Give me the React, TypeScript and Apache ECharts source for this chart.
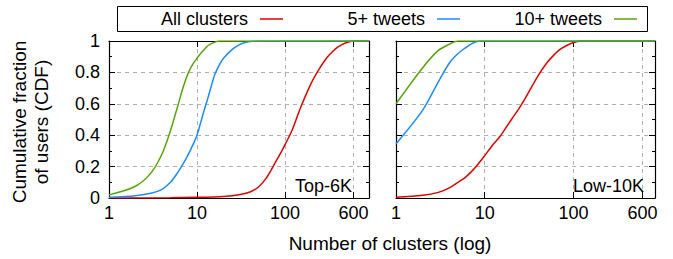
import React, { useEffect, useRef } from "react";
import * as echarts from "echarts";

// Top-6K panel
const topAllX = [1, 5, 10, 20, 30, 40, 50, 60, 70, 80, 90, 100, 120, 150, 200, 250, 300, 350, 400, 500, 600, 900];
const topAllY = [0, 0.001, 0.004, 0.01, 0.02, 0.038, 0.07, 0.12, 0.18, 0.24, 0.29, 0.34, 0.43, 0.575, 0.735, 0.83, 0.895, 0.935, 0.962, 0.99, 1.0, 1.0];
const top5X = [1, 2, 3, 4, 5, 6, 7, 8, 9, 10, 11, 12, 13, 14, 15, 16, 18, 20, 25, 30, 35, 40, 50, 900];
const top5Y = [0.005, 0.015, 0.03, 0.055, 0.1, 0.16, 0.22, 0.28, 0.34, 0.4, 0.48, 0.555, 0.62, 0.68, 0.74, 0.79, 0.85, 0.89, 0.945, 0.975, 0.99, 0.997, 1.0, 1.0];
const top10X = [1, 2, 3, 4, 5, 6, 7, 8, 9, 10, 11, 12, 13, 14, 16, 18, 900];
const top10Y = [0.02, 0.075, 0.16, 0.28, 0.43, 0.58, 0.71, 0.8, 0.855, 0.89, 0.92, 0.945, 0.965, 0.978, 0.993, 1.0, 1.0];

// Low-10K panel
const lowAllX = [1, 2, 3, 4, 5, 6, 7, 8, 10, 12, 15, 20, 25, 30, 40, 50, 60, 70, 80, 100, 120, 830];
const lowAllY = [0.005, 0.017, 0.036, 0.065, 0.1, 0.13, 0.165, 0.2, 0.27, 0.33, 0.395, 0.5, 0.58, 0.655, 0.78, 0.86, 0.91, 0.945, 0.965, 0.99, 1.0, 1.0];
const low5X = [1, 2, 3, 4, 5, 6, 7, 8, 9, 830];
const low5Y = [0.345, 0.56, 0.74, 0.86, 0.92, 0.955, 0.98, 0.995, 1.0, 1.0];
const low10X = [1, 2, 3, 4, 5, 830];
const low10Y = [0.6, 0.83, 0.94, 0.98, 1.0, 1.0];

const seriesNames = ["All clusters", "5+ tweets", "10+ tweets"];
const panelLabels = ["Top-6K", "Low-10K"];
const xTicks = [1, 10, 100, 600];
const xMax = [900, 830];

const colors = ["#e00000", "#1a8cff", "#58a50a"];
const FONT = "'Liberation Sans', Arial, sans-serif";

const zip = (xs: number[], ys: number[]) => xs.map((x, i) => [x, ys[i]]);

export default function App() {
  const ref = useRef<HTMLDivElement>(null);
  useEffect(() => {
    if (!ref.current) return;
    const chart = echarts.init(ref.current, null, { renderer: "svg" });
    const grids = [
      { left: 109, top: 41, width: 260, height: 157 },
      { left: 396, top: 41, width: 259, height: 157 },
    ];
    const splitLine = { show: true, lineStyle: { color: "#b0b0b0", type: [4, 4] as any, width: 1 } };
    const axisLine = { show: true, onZero: false, lineStyle: { color: "#000", width: 1.2 } };
    const xAxis: any[] = [];
    const yAxis: any[] = [];
    [0, 1].forEach((g) => {
      xAxis.push({
        type: "log", logBase: 10, gridIndex: g, min: 1, max: xMax[g], position: "bottom",
        axisLine,
        axisTick: { show: true, inside: true, length: 6, customValues: xTicks, lineStyle: { color: "#000" } },
        axisLabel: { show: true, customValues: xTicks, color: "#000", fontSize: 18, fontFamily: FONT, margin: 6, formatter: (v: number) => String(Math.round(v)) },
        splitLine: { ...splitLine },
        minorTick: { show: false }, minorSplitLine: { show: false },
      });
      xAxis.push({
        type: "log", logBase: 10, gridIndex: g, min: 1, max: xMax[g], position: "top",
        axisLine,
        axisTick: { show: true, inside: true, length: 6, customValues: xTicks, lineStyle: { color: "#000" } },
        axisLabel: { show: false },
        splitLine: { show: false },
      });
      yAxis.push({
        type: "value", gridIndex: g, min: 0, max: 1, interval: 0.2, position: "left",
        axisLine,
        axisTick: { show: true, inside: true, length: 6, lineStyle: { color: "#000" } },
        minorTick: { show: true, splitNumber: 2, length: 3, lineStyle: { color: "#000" } },
        axisLabel: { show: g === 0, color: "#000", fontSize: 18, fontFamily: FONT, margin: 9, formatter: (v: number) => String(Math.round(v * 10) / 10) },
        splitLine: { ...splitLine },
      });
      yAxis.push({
        type: "value", gridIndex: g, min: 0, max: 1, interval: 0.2, position: "right",
        axisLine,
        axisTick: { show: true, inside: true, length: 6, lineStyle: { color: "#000" } },
        minorTick: { show: true, splitNumber: 2, length: 3, lineStyle: { color: "#000" } },
        axisLabel: { show: false },
        splitLine: { show: false },
      });
    });
    const panels = [
      [zip(topAllX, topAllY), zip(top5X, top5Y), zip(top10X, top10Y)],
      [zip(lowAllX, lowAllY), zip(low5X, low5Y), zip(low10X, low10Y)],
    ];
    const series: any[] = [];
    panels.forEach((p, g) => {
      p.forEach((data, i) => {
        series.push({
          type: "line", name: seriesNames[i], xAxisIndex: g * 2, yAxisIndex: g * 2,
          data, showSymbol: false, symbol: "none", smooth: 0.3, clip: true,
          lineStyle: { color: colors[i], width: 1.5 }, z: 3,
        });
      });
    });
    const legendText = [248, 425, 602];
    const graphic: any[] = [
      { type: "rect", shape: { x: 117.5, y: 6.5, width: 530, height: 25 }, style: { fill: "#fff", stroke: "#000", lineWidth: 1 } },
    ];
    seriesNames.forEach((n, i) => {
      graphic.push({ type: "text", x: legendText[i], y: 19, style: { text: n, fill: "#000", font: `18px ${FONT}`, align: "right", verticalAlign: "middle" } });
      graphic.push({ type: "line", shape: { x1: legendText[i] + 12, y1: 19, x2: legendText[i] + 35, y2: 19 }, style: { stroke: colors[i], lineWidth: 1.5 } });
    });
    graphic.push({ type: "text", x: 352, y: 186, z: 10, style: { text: panelLabels[0], fill: "#000", font: `18px ${FONT}`, align: "right", verticalAlign: "middle" } });
    graphic.push({ type: "text", x: 644, y: 186, z: 10, style: { text: panelLabels[1], fill: "#000", font: `18px ${FONT}`, align: "right", verticalAlign: "middle" } });
    graphic.push({ type: "text", x: 30, y: 122, rotation: Math.PI / 2, style: { text: "Cumulative fraction\nof users (CDF)", fill: "#000", font: `19px ${FONT}`, align: "center", verticalAlign: "middle", lineHeight: 22 } });
    graphic.push({ type: "text", x: 390, y: 243, style: { text: "Number of clusters (log)", fill: "#000", font: `19px ${FONT}`, align: "center", verticalAlign: "middle" } });

    chart.setOption({
      animation: false,
      backgroundColor: "#fff",
      textStyle: { fontFamily: FONT },
      grid: grids,
      xAxis, yAxis, series, graphic,
    });
    return () => chart.dispose();
  }, []);
  return <div ref={ref} style={{ position: "fixed", left: 0, top: 0, width: 673, height: 259 }} />;
}
